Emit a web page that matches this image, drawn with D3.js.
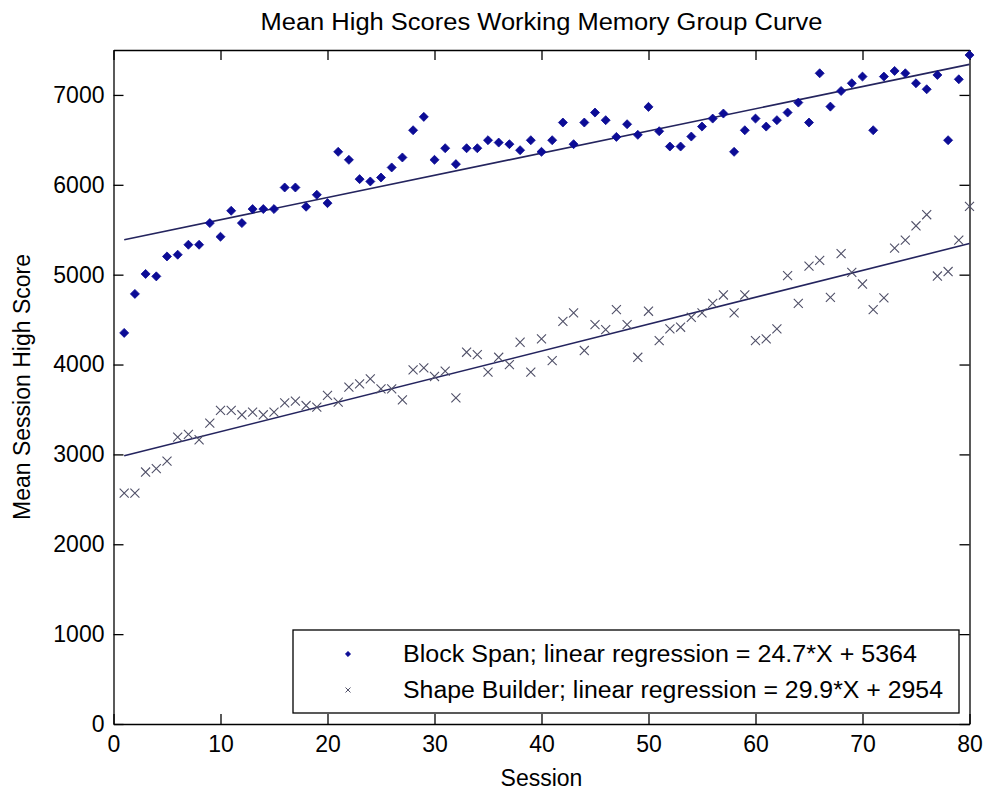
<!DOCTYPE html>
<html>
<head>
<meta charset="utf-8">
<script src="https://cdn.jsdelivr.net/npm/d3@7"></script>
<style>
  body { margin: 0; background: #fff; }
  svg text { font-family: "Liberation Sans", Arial, sans-serif; fill: #000; }
</style>
</head>
<body>
<div id="vis"></div>
<script>
// sessions 1..80
let sessions = d3.range(1, 81)

// mean high score per session
let blockSpan = [4352, 4786, 5008, 4981, 5203, 5222, 5333, 5333, 5574, 5422,
  5711, 5574, 5730, 5730, 5730, 5970, 5970, 5756, 5889, 5796,
  6367, 6278, 6063, 6037, 6081, 6193, 6304, 6607, 6756, 6278,
  6407, 6230, 6407, 6407, 6496, 6470, 6452, 6385, 6496, 6367,
  6496, 6693, 6452, 6693, 6804, 6719, 6533, 6674, 6556, 6867,
  6596, 6426, 6426, 6537, 6648, 6737, 6793, 6367, 6607, 6737,
  6648, 6719, 6804, 6915, 6693, 7241, 6870, 7044, 7130, 7204,
  6607, 7204, 7267, 7241, 7130, 7063, 7222, 6496, 7174, 7444]

let shapeBuilder = [2570, 2570, 2804, 2841, 2926, 3193, 3222, 3163, 3348, 3489,
  3489, 3441, 3470, 3441, 3470, 3574, 3593, 3544, 3526, 3656,
  3581, 3748, 3785, 3841, 3730, 3730, 3607, 3941, 3963, 3867,
  3926, 3630, 4137, 4111, 3915, 4081, 4000, 4248, 3915, 4285,
  4044, 4481, 4574, 4156, 4444, 4389, 4611, 4444, 4081, 4593,
  4267, 4396, 4415, 4526, 4574, 4681, 4774, 4574, 4774, 4267,
  4285, 4396, 4989, 4681, 5096, 5160, 4748, 5234, 5026, 4896,
  4611, 4741, 5296, 5385, 5544, 5667, 4985, 5035, 5385, 5759]

// regression line end points (session, score)
let blockFit = [[1, 5389], [80, 7340]]
let shapeFit = [[1, 2984], [80, 5346]]

let xTicks = [0, 10, 20, 30, 40, 50, 60, 70, 80]
let yTicks = [0, 1000, 2000, 3000, 4000, 5000, 6000, 7000]

let legendLabels = ['Block Span; linear regression = 24.7*X + 5364',
  'Shape Builder; linear regression = 29.9*X + 2954']

let width = 984, height = 792
let mLeft = 113.5, mRight = 969.5, mTop = 50, mBottom = 724

let svg = d3.select('#vis').append('svg')
  .attr('width', width)
  .attr('height', height)

let x = d3.scaleLinear().domain([0, 80]).range([mLeft, mRight])
let y = d3.scaleLinear().domain([0, 7500]).range([mBottom, mTop])

let fontSize = '23px'

// axes box with inward ticks on all four sides
let tickLen = 10
svg.append('g').attr('transform', `translate(0,${mBottom})`)
  .call(d3.axisBottom(x).tickValues(xTicks).tickSizeInner(-tickLen).tickSizeOuter(0).tickPadding(12))
svg.append('g').attr('transform', `translate(0,${mTop})`)
  .call(d3.axisTop(x).tickValues(xTicks).tickSizeInner(-tickLen).tickSizeOuter(0).tickFormat(''))
svg.append('g').attr('transform', `translate(${mLeft},0)`)
  .call(d3.axisLeft(y).tickValues(yTicks).tickSizeInner(-tickLen).tickSizeOuter(0).tickPadding(9).tickFormat(d3.format('d')))
svg.append('g').attr('transform', `translate(${mRight},0)`)
  .call(d3.axisRight(y).tickValues(yTicks).tickSizeInner(-tickLen).tickSizeOuter(0).tickFormat(''))

svg.selectAll('.domain').attr('stroke', '#000').attr('stroke-width', 1.3)
svg.selectAll('.tick line').attr('stroke', '#000').attr('stroke-width', 1.3)
svg.selectAll('.tick text').style('font-size', fontSize).style('font-family', '"Liberation Sans", Arial, sans-serif')

// regression lines
let line = d3.line().x(d => x(d[0])).y(d => y(d[1]))
let fitColor = '#24245e'
svg.append('path').datum(blockFit).attr('d', line)
  .attr('fill', 'none').attr('stroke', fitColor).attr('stroke-width', 1.6)
svg.append('path').datum(shapeFit).attr('d', line)
  .attr('fill', 'none').attr('stroke', fitColor).attr('stroke-width', 1.6)

let diamond = d3.symbol().type(d3.symbolDiamond2).size(52)
let cross = d3.symbol().type(d3.symbolX).size(55)

let blockColor = '#0c0c96'
let shapeColor = '#505068'

svg.append('g').selectAll('path')
  .data(sessions)
  .join('path')
  .attr('d', diamond)
  .attr('transform', (d, i) => `translate(${x(d)},${y(blockSpan[i])})`)
  .attr('fill', blockColor)
  .attr('stroke', blockColor)
  .attr('stroke-width', 0.8)

svg.append('g').selectAll('path')
  .data(sessions)
  .join('path')
  .attr('d', cross)
  .attr('transform', (d, i) => `translate(${x(d)},${y(shapeBuilder[i])})`)
  .attr('fill', 'none')
  .attr('stroke', shapeColor)
  .attr('stroke-width', 1.1)

// legend
let lg = svg.append('g')
lg.append('rect')
  .attr('x', 293).attr('y', 630)
  .attr('width', 666).attr('height', 83)
  .attr('fill', '#fff').attr('stroke', '#000').attr('stroke-width', 1.3)

let rowY = [654, 690]
let rowW = [514, 540]
lg.append('path').attr('d', d3.symbol().type(d3.symbolDiamond2).size(18))
  .attr('transform', `translate(348,${rowY[0]})`)
  .attr('fill', blockColor).attr('stroke', blockColor).attr('stroke-width', 0.6)
lg.append('path').attr('d', d3.symbol().type(d3.symbolX).size(18))
  .attr('transform', `translate(348,${rowY[1]})`)
  .attr('fill', 'none').attr('stroke', shapeColor).attr('stroke-width', 1)

lg.selectAll('text.leg')
  .data(legendLabels)
  .join('text')
  .attr('class', 'leg')
  .attr('x', 403)
  .attr('y', (d, i) => rowY[i] + 8)
  .attr('textLength', (d, i) => rowW[i])
  .attr('lengthAdjust', 'spacingAndGlyphs')
  .style('font-size', fontSize)
  .text(d => d)

// titles
svg.append('text')
  .attr('x', (mLeft + mRight) / 2).attr('y', 30)
  .attr('text-anchor', 'middle')
  .attr('textLength', 562)
  .attr('lengthAdjust', 'spacingAndGlyphs')
  .style('font-size', fontSize)
  .text('Mean High Scores Working Memory Group Curve')

svg.append('text')
  .attr('x', (mLeft + mRight) / 2).attr('y', 786)
  .attr('text-anchor', 'middle')
  .style('font-size', fontSize)
  .text('Session')

svg.append('text')
  .attr('transform', `translate(30,${(mTop + mBottom) / 2}) rotate(-90)`)
  .attr('text-anchor', 'middle')
  .style('font-size', fontSize)
  .text('Mean Session High Score')
</script>
</body>
</html>
